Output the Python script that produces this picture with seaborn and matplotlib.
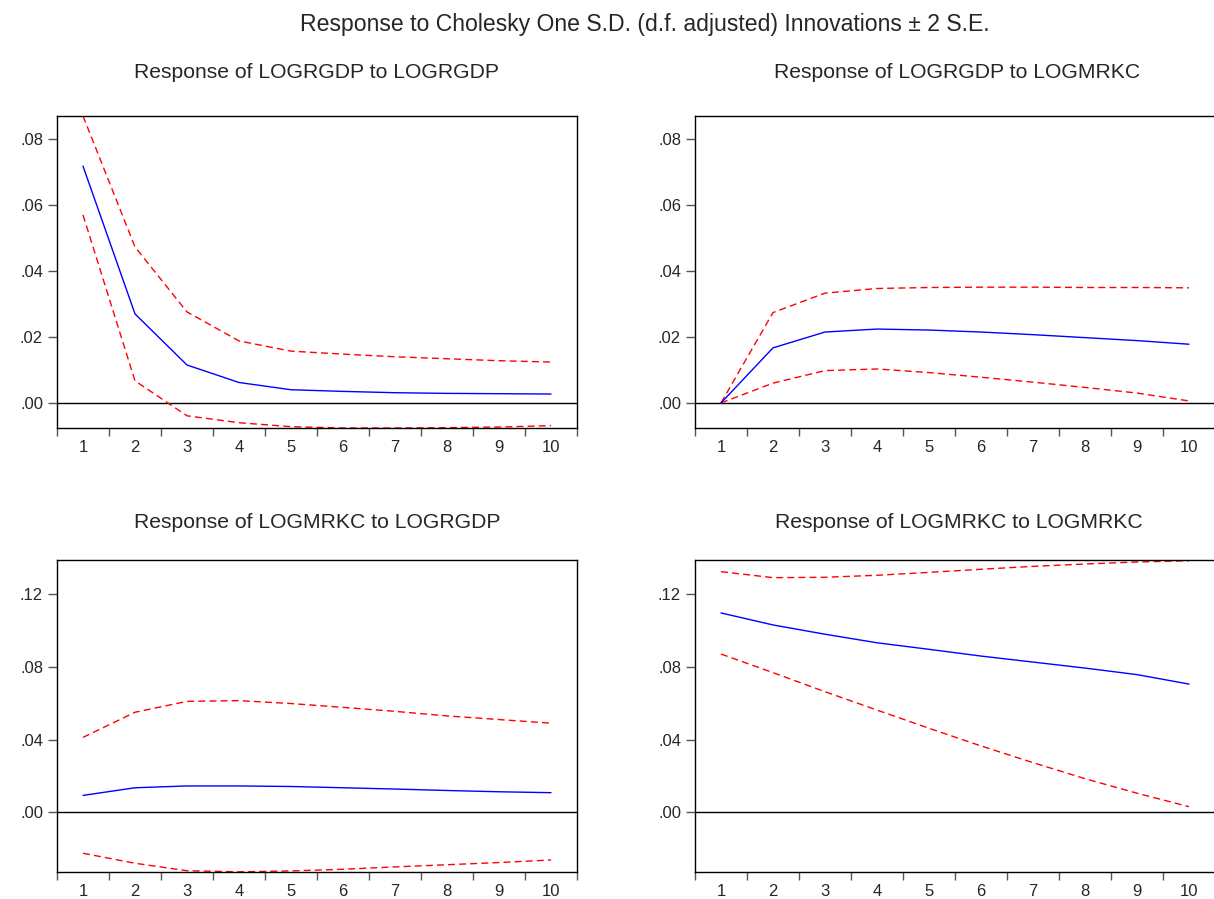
import numpy as np
import pandas as pd
import matplotlib
matplotlib.use('Agg')
import matplotlib.pyplot as plt
import seaborn as sns

# impulse response periods
periods = list(range(1, 11))

# Response of LOGRGDP to LOGRGDP
gdp_gdp = [0.0718, 0.0270, 0.0115, 0.0062, 0.0040, 0.0035, 0.0031, 0.0029, 0.0028, 0.0027]
gdp_gdp_hi = [0.0870, 0.0473, 0.0276, 0.0188, 0.0157, 0.0148, 0.0140, 0.0134, 0.0128, 0.0124]
gdp_gdp_lo = [0.0570, 0.0067, -0.0039, -0.0060, -0.0072, -0.0076, -0.0076, -0.0075, -0.0073, -0.0069]

# Response of LOGRGDP to LOGMRKC
gdp_mrk = [0.0, 0.0167, 0.0215, 0.0224, 0.0221, 0.0215, 0.0207, 0.0198, 0.0189, 0.0178]
gdp_mrk_hi = [0.0, 0.0274, 0.0333, 0.0347, 0.0350, 0.0351, 0.0351, 0.0350, 0.0350, 0.0349]
gdp_mrk_lo = [0.0, 0.0060, 0.0098, 0.0103, 0.0092, 0.0078, 0.0063, 0.0047, 0.0030, 0.0006]

# Response of LOGMRKC to LOGRGDP
mrk_gdp = [0.0093, 0.0135, 0.0145, 0.0145, 0.0142, 0.0135, 0.0128, 0.0120, 0.0113, 0.0108]
mrk_gdp_hi = [0.0412, 0.0550, 0.0610, 0.0614, 0.0598, 0.0577, 0.0555, 0.0530, 0.0510, 0.0490]
mrk_gdp_lo = [-0.0225, -0.0280, -0.0321, -0.0327, -0.0322, -0.0313, -0.0300, -0.0288, -0.0276, -0.0262]

# Response of LOGMRKC to LOGMRKC
mrk_mrk = [0.1096, 0.1030, 0.0979, 0.0932, 0.0896, 0.0859, 0.0826, 0.0793, 0.0757, 0.0705]
mrk_mrk_hi = [0.1323, 0.1290, 0.1292, 0.1303, 0.1319, 0.1336, 0.1352, 0.1365, 0.1376, 0.1383]
mrk_mrk_lo = [0.0870, 0.0768, 0.0663, 0.0562, 0.0462, 0.0365, 0.0273, 0.0185, 0.0105, 0.0031]

titles = ['Response of LOGRGDP to LOGRGDP', 'Response of LOGRGDP to LOGMRKC',
          'Response of LOGMRKC to LOGRGDP', 'Response of LOGMRKC to LOGMRKC']
top_ticks = [0.00, 0.02, 0.04, 0.06, 0.08]
bot_ticks = [0.00, 0.04, 0.08, 0.12]

sns.set_style('ticks')
plt.rcParams['font.family'] = ['Liberation Sans', 'DejaVu Sans']

fig = plt.figure(figsize=(12.14, 8.99), dpi=100)
W, H = 1214, 899

# axes boxes in pixels: left, top, right, bottom
boxes = [(57, 116, 577, 428), (695, 116, 1215, 428),
         (57, 560, 577, 872), (695, 560, 1215, 872)]
panels = [(gdp_gdp, gdp_gdp_hi, gdp_gdp_lo), (gdp_mrk, gdp_mrk_hi, gdp_mrk_lo),
          (mrk_gdp, mrk_gdp_hi, mrk_gdp_lo), (mrk_mrk, mrk_mrk_hi, mrk_mrk_lo)]
ylims = [(-0.0076, 0.0870), (-0.0076, 0.0870), (-0.0328, 0.1387), (-0.0328, 0.1387)]
title_base = [78, 78, 528, 528]
title_x = [317, 957, 317, 959]

for i, (box, (mid, hi, lo)) in enumerate(zip(boxes, panels)):
    l, t, r, b = box
    ax = fig.add_axes([l / W, 1 - b / H, (r - l) / W, (b - t) / H])
    df = pd.DataFrame({'period': periods, 'mid': mid, 'hi': hi, 'lo': lo})
    ax.axhline(0, color='black', lw=1, zorder=1)
    sns.lineplot(data=df, x='period', y='hi', ax=ax, color='red', lw=1, linestyle=(0, (5, 3)))
    sns.lineplot(data=df, x='period', y='lo', ax=ax, color='red', lw=1, linestyle=(0, (5, 3)))
    sns.lineplot(data=df, x='period', y='mid', ax=ax, color='blue', lw=1)
    ax.set_xlim(0.5, 10.5)
    ax.set_ylim(*ylims[i])
    ax.set_xlabel('')
    ax.set_ylabel('')
    # boundary ticks (unlabelled) and centred labels
    ax.set_xticks(np.arange(0.5, 11, 1))
    ax.set_xticklabels([])
    ax.set_xticks(periods, minor=True)
    ax.set_xticklabels([str(p) for p in periods], minor=True)
    ax.tick_params(axis='x', which='major', length=6, width=1, direction='out', color='#555555')
    ax.tick_params(axis='x', which='minor', length=0, pad=9, labelsize=12)
    yt = top_ticks if i < 2 else bot_ticks
    ax.set_yticks(yt)
    ax.set_yticklabels([('%.2f' % v)[1:] for v in yt])
    ax.tick_params(axis='y', length=6.5, width=1, direction='out', color='#555555', labelsize=12, pad=3.5)
    for s in ax.spines.values():
        s.set_color('black')
        s.set_linewidth(1)
    fig.text(title_x[i] / W, 1 - title_base[i] / H, titles[i], ha='center', va='baseline', fontsize=15.2)

fig.text(645 / W, 1 - 31 / H, 'Response to Cholesky One S.D. (d.f. adjusted) Innovations \u00b1 2 S.E.',
         ha='center', va='baseline', fontsize=16.6)

fig.savefig('out.png', dpi=100)
